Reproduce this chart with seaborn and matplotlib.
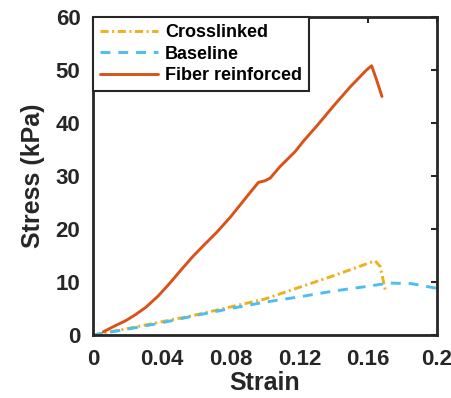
import matplotlib
matplotlib.use("Agg")
import matplotlib.pyplot as plt
import seaborn as sns

# ---- data ----
fiber_strain = [0.006, 0.012, 0.019, 0.025, 0.031, 0.038, 0.0446, 0.051, 0.058, 0.064,
                0.072, 0.080, 0.0894, 0.0962, 0.100, 0.103, 0.1088, 0.1175, 0.1224,
                0.130, 0.1398, 0.1495, 0.159, 0.162, 0.165, 0.168]
fiber_stress = [0.6, 1.6, 2.7, 3.9, 5.3, 7.4, 9.75, 12.2, 14.8, 16.8,
                19.4, 22.3, 26.1, 28.8, 29.1, 29.6, 31.8, 34.6, 36.6,
                39.4, 43.2, 46.8, 50.0, 50.8, 48.0, 45.0]

cross_strain = [0.0, 0.02, 0.04, 0.06, 0.08, 0.10, 0.12, 0.14, 0.164, 0.167, 0.170]
cross_stress = [0.0, 1.2, 2.5, 3.8, 5.3, 6.8, 9.0, 11.2, 14.0, 12.9, 8.4]

base_strain = [0.0, 0.02, 0.04, 0.06, 0.08, 0.10, 0.12, 0.14, 0.16, 0.172, 0.185, 0.2]
base_stress = [0.0, 1.1, 2.3, 3.7, 5.0, 6.2, 7.2, 8.3, 9.2, 9.8, 9.7, 8.8]

series_labels = ["Crosslinked", "Baseline", "Fiber reinforced"]
xtick_vals = [0, 0.04, 0.08, 0.12, 0.16, 0.2]
xtick_labels = ["0", "0.04", "0.08", "0.12", "0.16", "0.2"]
ytick_vals = [0, 10, 20, 30, 40, 50, 60]

sns.set_style("white")
plt.rcParams['font.family'] = ['Liberation Sans', 'DejaVu Sans']
plt.rcParams['font.weight'] = 'bold'

dark = "#262626"
fig = plt.figure(figsize=(4.51, 3.98), dpi=100)
ax = fig.add_axes([93/451, 63/398, (437-93)/451, (335-17)/398])

lw = 2.1
sns.lineplot(x=cross_strain, y=cross_stress, ax=ax, sort=False, estimator=None,
             color="#EDB120", lw=lw, label=series_labels[0])
sns.lineplot(x=base_strain, y=base_stress, ax=ax, sort=False, estimator=None,
             color="#4DBEEE", lw=lw, label=series_labels[1])
sns.lineplot(x=fiber_strain, y=fiber_stress, ax=ax, sort=False, estimator=None,
             color="#D95319", lw=lw, label=series_labels[2])

lines = ax.get_lines()
lines[0].set_dashes((2.8, 1.2, 0.7, 1.2))
lines[1].set_dashes((3.4, 2.7))

ax.set_xlim(0, 0.2)
ax.set_ylim(0, 60)
ax.set_xticks(xtick_vals)
ax.set_xticklabels(xtick_labels)
ax.set_yticks(ytick_vals)
ax.tick_params(direction="in", length=4, width=1.5, top=True, right=True,
               labelsize=16, colors=dark)
ax.tick_params(axis="x", pad=10)
ax.tick_params(axis="y", pad=9)
for lab in ax.get_xticklabels() + ax.get_yticklabels():
    lab.set_fontweight("bold")
    lab.set_color(dark)
for sp in ax.spines.values():
    sp.set_visible(True)
    sp.set_linewidth(2.0)
    sp.set_color(dark)

ax.set_xlabel("Strain", fontsize=18, fontweight="bold", color=dark, labelpad=1)
ax.set_ylabel("Stress (kPa)", fontsize=18, fontweight="bold", color=dark, labelpad=8)

leg = ax.legend(loc="upper left", borderaxespad=0, fancybox=False, frameon=True,
                prop={"size": 13, "weight": "bold"}, handlelength=3.2,
                handletextpad=0.4, labelspacing=0.25, borderpad=0.4)
leg.get_frame().set_edgecolor(dark)
leg.get_frame().set_linewidth(1.5)
leg.get_frame().set_alpha(1)
for t in leg.get_texts():
    t.set_color("black")

fig.savefig("out.png", dpi=100)
